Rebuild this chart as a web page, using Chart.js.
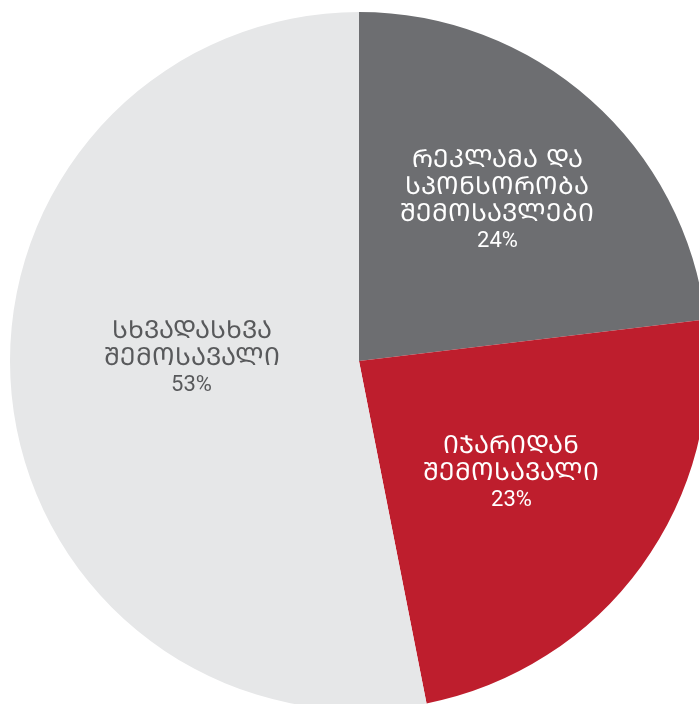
<!DOCTYPE html>
<html>
<head>
<meta charset="utf-8">
<script src="https://cdn.jsdelivr.net/npm/chart.js@4"></script>
<style>
    html, body { margin: 0; padding: 0; background: #ffffff; overflow: hidden; width: 699px; height: 704px; }
    #wrap { position: absolute; left: 10px; top: 12px; width: 698px; height: 698px; }
</style>
</head>
<body>
<div id="wrap"><canvas id="chart_1"></canvas></div>
<script>
const ctx = document.getElementById("chart_1");

// slice labels (Georgian), one line per entry
const categories = [
    ['რეკლამა და', 'სპონსორობა', 'შემოსავლები'],
    ['იჯარიდან', 'შემოსავალი'],
    ['სხვადასხვა', 'შემოსავალი']
];
const percentLabels = ['24%', '23%', '53%'];
// slice sizes
const shares = [23.1, 23.8, 53.1];
const colors = ['#6d6e71', '#be1e2d', '#e6e7e8'];
const textColors = ['#ffffff', '#ffffff', '#58595b'];

// mkhedruli -> mtavruli capitals
const toCaps = s => s.replace(/[\u10D0-\u10FA]/g, c => String.fromCharCode(c.charCodeAt(0) + 0xBC0));

const labelPlace = [
    { r: 0.61, shift: -1 },
    { r: 0.54, shift: 0 },
    { r: 0.48, shift: 7 }
];

const sliceLabels = {
    id: 'sliceLabels',
    afterDatasetsDraw(chart) {
        const c = chart.ctx;
        const meta = chart.getDatasetMeta(0);
        meta.data.forEach((arc, i) => {
            const p = arc.getProps(['x', 'y', 'startAngle', 'endAngle', 'outerRadius'], true);
            const mid = (p.startAngle + p.endAngle) / 2 + labelPlace[i].shift * Math.PI / 180;
            const rr = p.outerRadius * labelPlace[i].r;
            const cx = p.x + Math.cos(mid) * rr;
            const cy = p.y + Math.sin(mid) * rr;
            const lines = categories[i].map(toCaps).concat([percentLabels[i]]);
            const lh = 27;
            const top = cy - (lines.length - 1) * lh / 2 + 2;
            c.save();
            c.fillStyle = textColors[i];
            c.textAlign = 'center';
            c.textBaseline = 'middle';
            lines.forEach((t, k) => {
                c.font = k == lines.length - 1 ? '22px Roboto, sans-serif' : '200 25px "DejaVu Sans", sans-serif';
                c.fillText(t, cx, top + k * lh);
            });
            c.restore();
        });
    }
};

new Chart(ctx, {
    type: 'pie',
    data: {
        labels: categories.map(l => l.join(' ')),
        datasets: [{
            data: shares,
            backgroundColor: colors,
            borderWidth: 0
        }]
    },
    plugins: [sliceLabels],
    options: {
        responsive: true,
        maintainAspectRatio: false,
        animation: false,
        layout: { padding: 0 },
        plugins: {
            legend: { display: false },
            tooltip: { enabled: false }
        }
    }
});
</script>
</body>
</html>
